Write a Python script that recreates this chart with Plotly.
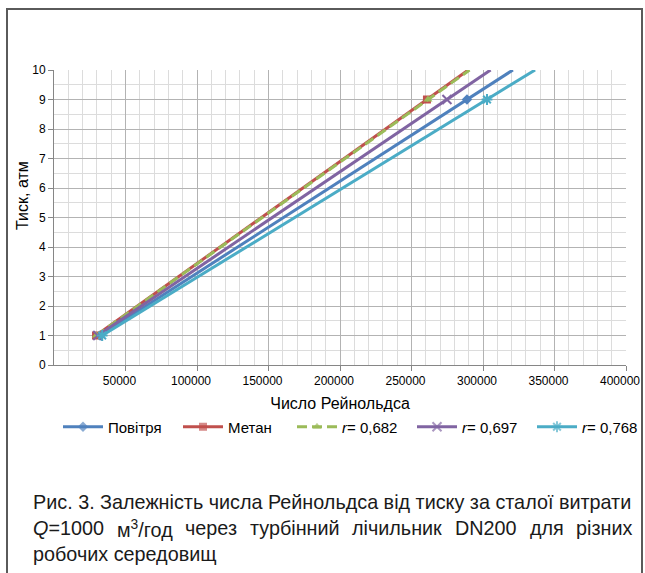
import plotly.graph_objects as go

# ---- data ----
pressure_atm = [1, 9, 10]
series_names = ["Повітря", "Метан", "<i>r</i>= 0,682", "<i>r</i>= 0,697", "<i>r</i>= 0,768"]
re_air = [32200, 288800, 320900]
re_methane = [29400, 260800, 289700]
re_r0682 = [29600, 261500, 290600]
re_r0697 = [30600, 274800, 305300]
re_r0768 = [33700, 302800, 336400]
x_tick_vals = [50000, 100000, 150000, 200000, 250000, 300000, 350000, 400000]
y_tick_vals = [0, 1, 2, 3, 4, 5, 6, 7, 8, 9, 10]

W, H = 645, 573
L, R, T, B = 54, 19, 70, 208
PW, PH = W - L - R, H - T - B


def px(x):
    return (x - L) / PW


def py(y):
    return (H - B - y) / PH


colors = ["#4F81BD", "#C0504D", "#9BBB59", "#8064A2", "#4BACC6"]
symbols = ["diamond", "square", "triangle-up", "x-thin", "asterisk-open"]
dashes = ["solid", "solid", "10px,5px", "solid", "solid"]
values = [re_air, re_methane, re_r0682, re_r0697, re_r0768]
legend_ids = ["legend", "legend2", "legend3", "legend4", "legend5"]
legend_x_px = [58, 178, 292, 412, 532]

fig = go.Figure()
for name, vals, c, s, d, lg in zip(series_names, values, colors, symbols, dashes, legend_ids):
    marker = dict(symbol=s, color=c, size=8, opacity=[1, 1, 0])
    if s in ("x-thin", "asterisk-open"):
        marker.update(line=dict(color=c, width=2), size=9)
    fig.add_trace(go.Scatter(
        x=vals, y=pressure_atm, name=name, mode="lines+markers", legend=lg,
        line=dict(color=c, width=3, dash=d), marker=marker,
    ))

tick_font = dict(family="Liberation Sans, Arial", size=12, color="#000")
fig.update_xaxes(
    range=[0, 400000], tickvals=x_tick_vals, ticktext=[str(v) for v in x_tick_vals],
    showgrid=True, gridcolor="#b3b3b3", gridwidth=1,
    minor=dict(dtick=10000, tick0=0, showgrid=True, gridcolor="#dcdcdc", gridwidth=1),
    showline=True, linecolor="#868686", linewidth=1,
    ticks="outside", ticklen=5, tickcolor="#868686",
    tickfont=tick_font, ticklabelshift=-6, zeroline=False,
    title=dict(text="Число Рейнольдса", font=dict(family="Liberation Sans, Arial", size=16, color="#000"), standoff=10),
)
fig.update_yaxes(
    range=[0, 10], tickvals=y_tick_vals,
    showgrid=True, gridcolor="#b3b3b3", gridwidth=1,
    minor=dict(dtick=0.5, tick0=0, showgrid=True, gridcolor="#dcdcdc", gridwidth=1),
    showline=True, linecolor="#868686", linewidth=1,
    ticks="outside", ticklen=5, tickcolor="#868686",
    tickfont=tick_font, zeroline=False,
)

annotations = [
    dict(x=px(22), y=py(196), xref="paper", yref="paper", xanchor="center", yanchor="middle",
         text="Тиск, атм", textangle=-90,
         showarrow=False, font=dict(family="Liberation Sans, Arial", size=16, color="#000")),
]
cap_font = dict(family="Liberation Sans, Arial", size=19.8, color="#1a1a1a")
annotations.append(dict(x=px(31), y=py(502), xref="paper", yref="paper", xanchor="left", yanchor="middle",
                        text="Рис. 3. Залежність числа Рейнольдса від тиску за сталої витрати",
                        showarrow=False, font=cap_font))
# justified second caption line: word-by-word placement
line2 = [("<i>Q</i>=1000", 31, "left"), ("м<sup>3</sup>/год", 145, "center"), ("через", 211, "center"),
         ("турбінний", 295, "center"), ("лічильник", 397, "center"), ("DN200", 486, "center"),
         ("для", 547, "center"), ("різних", 634, "right")]
for txt, xx, anc in line2:
    annotations.append(dict(x=px(xx), y=py(528), xref="paper", yref="paper", xanchor=anc, yanchor="middle",
                            text=txt, showarrow=False, font=cap_font))
annotations.append(dict(x=px(31), y=py(554), xref="paper", yref="paper", xanchor="left", yanchor="middle",
                        text="робочих середовищ", showarrow=False, font=cap_font))

frame_col = "#5a5a5a"
shapes = [
    dict(type="line", xref="paper", yref="paper", x0=px(6), x1=px(643), y0=py(9), y1=py(9),
         line=dict(color=frame_col, width=2)),
    dict(type="line", xref="paper", yref="paper", x0=px(7), x1=px(7), y0=py(9), y1=py(580),
         line=dict(color=frame_col, width=2)),
    dict(type="line", xref="paper", yref="paper", x0=px(642), x1=px(642), y0=py(9), y1=py(580),
         line=dict(color=frame_col, width=2)),
]

legend_font = dict(family="Liberation Sans, Arial", size=15, color="#000")
layout_legends = {}
for lg, lx in zip(legend_ids, legend_x_px):
    layout_legends[lg] = dict(orientation="h", x=px(lx), y=py(427), xanchor="left", yanchor="middle",
                              font=legend_font, bgcolor="rgba(0,0,0,0)", borderwidth=0, itemwidth=40)

fig.update_layout(
    width=W, height=H, margin=dict(l=L, r=R, t=T, b=B, autoexpand=False),
    paper_bgcolor="white", plot_bgcolor="white",
    showlegend=True, hovermode=False,
    annotations=annotations, shapes=shapes,
    **layout_legends,
)

fig.write_html("out.html", config={"displayModeBar": False},
               post_script="document.body.style.margin='0px';")
